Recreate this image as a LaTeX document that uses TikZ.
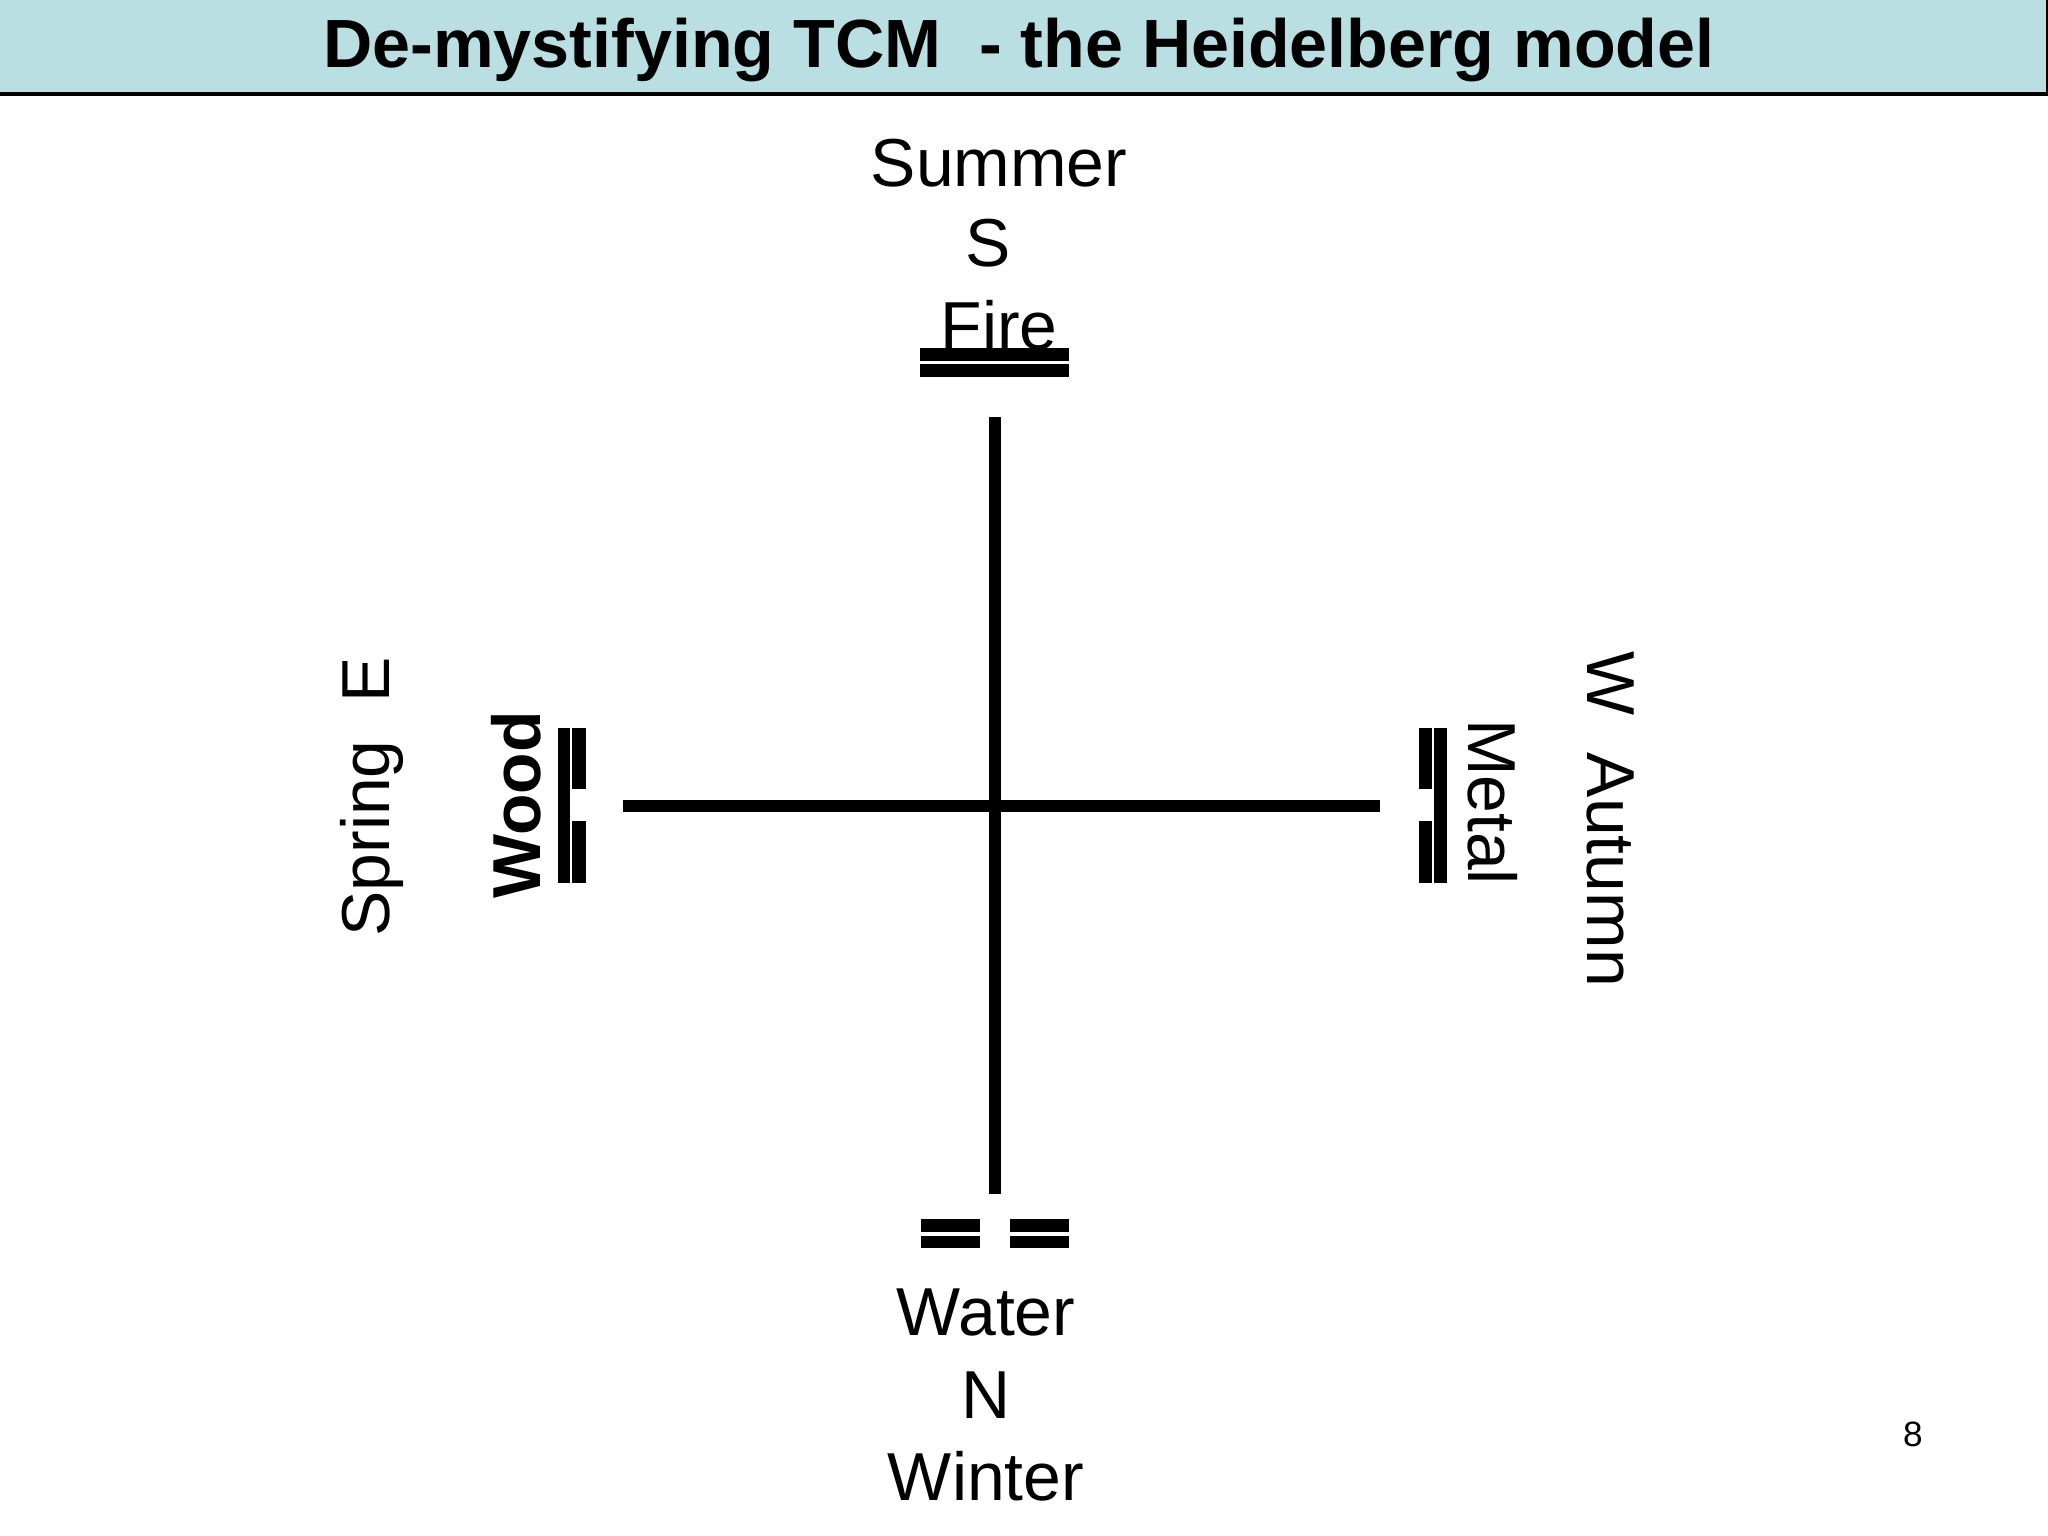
\documentclass[tikz,border=0pt]{standalone}
\usepackage{fontspec}
\setmainfont{Liberation Sans}
\definecolor{titlebg}{HTML}{B9DFE2}
\begin{document}
\begin{tikzpicture}[x=0.01cm,y=-0.01cm,
  lbl/.style={inner sep=0pt,font=\fontsize{19.3}{23}\selectfont},
  axis/.style={line width=3.3pt},
  bar/.style={fill=black,draw=none}]
\useasboundingbox (0,0) rectangle (2048,1536);
\fill[white] (0,0) rectangle (2048,1536);
\filldraw[fill=titlebg,draw=black,line width=1.2pt] (-2,-2) rectangle (2048,94);
\node[inner sep=0pt,font=\fontsize{19.4}{23}\selectfont\bfseries] (title) at (1019,50) {De-mystifying TCM\ \ - the Heidelberg model};
% cross
\coordinate (top) at (995,417); \coordinate (bot) at (995,1194);
\coordinate (lft) at (623,806); \coordinate (rgt) at (1380,806);
\draw[axis] (top) -- (bot);
\draw[axis] (lft) -- (rgt);
% Fire
\node[lbl] (summer) at (999,163) {Summer};
\node[lbl] (s) at (988,243) {S};
\node[lbl] (fire) at (999,325) {Fire};
\fill[bar] (920,348) rectangle (1069,361);
\fill[bar] (920,364) rectangle (1069,377);
% Water
\fill[bar] (921,1219) rectangle (980,1232);
\fill[bar] (1010,1219) rectangle (1069,1232);
\fill[bar] (921,1236) rectangle (980,1248);
\fill[bar] (1010,1236) rectangle (1069,1248);
\node[lbl] (water) at (986,1312) {Water};
\node[lbl] (n) at (986,1395) {N};
\node[lbl] (winter) at (986,1476) {Winter};
% Wood
\node[lbl,rotate=90] (spring) at (372,797) {Spring\ \ E};
\node[lbl,rotate=90,font=\fontsize{19.3}{23}\selectfont\bfseries] (wood) at (516,805) {Wood};
\fill[bar] (558,728) rectangle (570,883);
\fill[bar] (572,728) rectangle (586,789);
\fill[bar] (572,821) rectangle (586,883);
% Metal
\fill[bar] (1419,728) rectangle (1432,789);
\fill[bar] (1419,821) rectangle (1432,883);
\fill[bar] (1434,728) rectangle (1447,883);
\node[lbl,rotate=-90] (metal) at (1493,802) {Metal};
\node[lbl,rotate=-90] (autumn) at (1610,819) {W\ \ Autumn};
\node[inner sep=0pt,font=\fontsize{10}{12}\selectfont] (pg) at (1913,1434) {8};
\end{tikzpicture}
\end{document}
